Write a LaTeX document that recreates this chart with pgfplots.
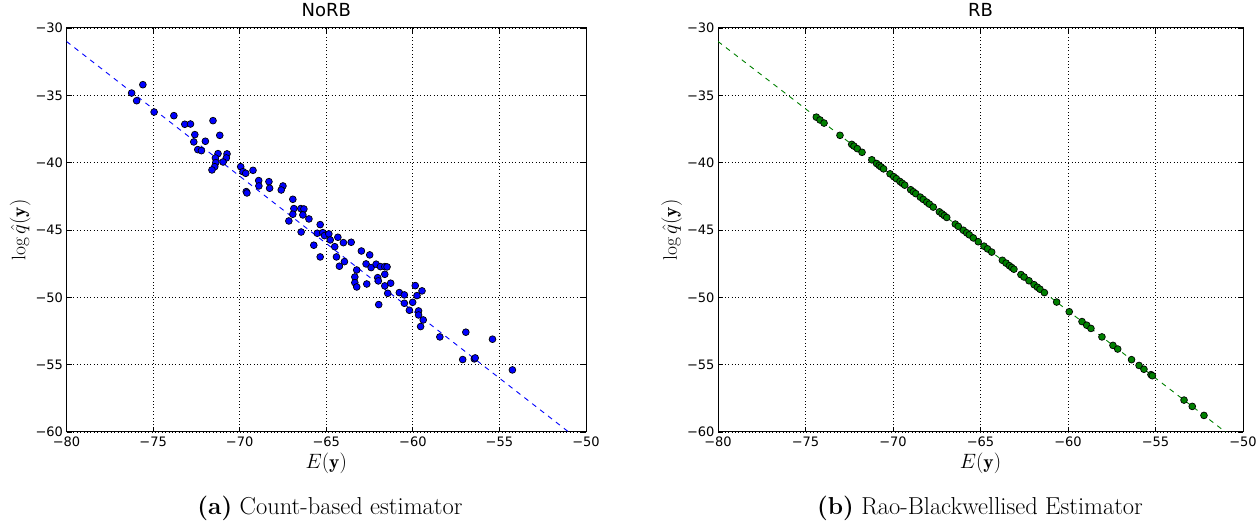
\documentclass[border=0pt]{standalone}
\usepackage{pgfplots}
\pgfplotsset{compat=1.18}
\usepackage{fontspec}
\newfontfamily\dejavu{DejaVu Sans}
\definecolor{mplgreen}{rgb}{0,0.5,0}
\pgfplotsset{
  myax/.style={
    scale only axis, height=404pt,
    xmin=-80, xmax=-50, ymin=-60, ymax=-30,
    xtick={-80,-75,-70,-65,-60,-55,-50},
    xticklabels={−80,−75,−70,−65,−60,−55,−50},
    ytick={-60,-55,-50,-45,-40,-35,-30},
    yticklabels={−60,−55,−50,−45,−40,−35,−30},
    tick label style={font=\dejavu\fontsize{13}{15}\selectfont},
    title style={font=\dejavu\fontsize{18}{21}\selectfont, at={(axis description cs:0.5,1)}, anchor=base, yshift=5pt},
    label style={font=\fontsize{19.5}{23}\selectfont},
    xlabel={$E(\mathbf{y})$},
    ylabel={$\log\hat{q}(\mathbf{y})$},
    xlabel style={at={(axis description cs:0.5,0)}, anchor=base, yshift=-37pt},
    grid=major,
    major grid style={black, line width=0.8pt, dash pattern=on 0.8pt off 2.6pt},
    major tick length=5pt,
    tick style={black, line width=0.8pt},
    axis line style={black, line width=1pt},
    xticklabel style={anchor=base, yshift=-15pt},
  }
}
\begin{document}
\begin{tikzpicture}
\useasboundingbox (0,0) rectangle (1259pt,529pt);
\begin{axis}[myax, at={(66.5pt,97pt)}, anchor=south west, width=519.5pt, title={NoRB},
  ylabel style={at={(axis description cs:-0.089,0.5)}, anchor=center}]
\addplot[blue, line width=0.9pt, dash pattern=on 5pt off 5pt] coordinates {(-80,-31) (-50,-61)};
\addplot[only marks, mark=*, mark size=3.4pt, mark options={fill=blue, draw=black, line width=0.7pt}] coordinates {
(-76.24,-34.83) (-75.95,-35.40) (-75.59,-34.21) (-74.94,-36.24) (-73.80,-36.51) (-73.17,-37.15) (-72.84,-37.13) (-72.59,-37.92) (-72.65,-38.46) (-72.42,-39.03) (-72.21,-39.11) (-71.98,-38.41) (-71.54,-36.88) (-71.15,-37.97) (-71.25,-39.33) (-71.40,-39.65) (-70.73,-39.35) (-70.77,-39.65) (-70.96,-39.95) (-71.38,-40.00) (-71.44,-40.30) (-71.60,-40.54) (-69.94,-40.30) (-69.81,-40.67) (-69.65,-40.79) (-69.23,-40.57) (-69.62,-42.15) (-69.58,-42.25) (-68.90,-41.33) (-68.89,-41.73) (-68.31,-41.41) (-68.27,-41.90) (-67.50,-41.73) (-67.60,-42.03) (-66.93,-42.72) (-66.87,-43.41) (-66.93,-43.83) (-67.16,-44.33) (-66.47,-43.41) (-66.29,-43.44) (-66.35,-43.88) (-66.00,-44.18)
(-66.45,-45.15) (-65.35,-44.60) (-65.52,-45.24) (-65.20,-45.20) (-65.10,-45.42) (-64.85,-45.29) (-64.77,-45.74) (-65.72,-46.13) (-65.35,-47.00) (-64.51,-46.24) (-64.33,-45.54) (-64.01,-45.94) (-63.56,-45.91) (-64.41,-47.00) (-63.95,-47.35) (-64.24,-47.69) (-62.97,-46.56) (-62.49,-46.85) (-62.70,-47.52) (-62.41,-47.79) (-62.12,-47.54) (-61.87,-47.72) (-61.62,-47.72) (-61.49,-47.74) (-63.24,-47.97) (-63.35,-48.49) (-63.35,-48.91) (-63.24,-49.23) (-62.66,-49.01) (-62.03,-48.54) (-61.99,-48.78) (-61.62,-48.29) (-61.62,-49.15) (-61.28,-48.95) (-61.45,-49.70) (-61.97,-50.54) (-60.78,-49.65)
(-60.49,-49.82) (-60.49,-50.44) (-60.01,-50.37) (-60.20,-50.96) (-59.86,-49.13) (-59.76,-49.87) (-59.47,-49.52) (-59.67,-51.01) (-59.67,-51.31) (-59.40,-51.68) (-59.55,-52.17) (-58.44,-52.94) (-56.94,-52.59) (-55.40,-53.11) (-57.12,-54.62) (-56.45,-54.57) (-56.40,-54.50) (-54.25,-55.39)
};
\end{axis}
\begin{axis}[myax, at={(718pt,97pt)}, anchor=south west, width=525pt, title={RB},
  ylabel style={at={(axis description cs:-0.088,0.5)}, anchor=center}]
\addplot[mplgreen, line width=0.9pt, dash pattern=on 5pt off 5pt] coordinates {(-80,-31) (-50,-61)};
\addplot[only marks, mark=*, mark size=3.4pt, mark options={fill=mplgreen, draw=black, line width=0.7pt}] coordinates {
(-74.38,-36.62) (-74.17,-36.83) (-73.94,-37.06) (-73.03,-37.97) (-72.36,-38.64) (-72.23,-38.77) (-72.04,-38.96) (-71.77,-39.23) (-71.21,-39.79) (-70.94,-40.06) (-70.79,-40.21) (-70.68,-40.32) (-70.54,-40.46) (-70.17,-40.83) (-69.96,-41.04) (-69.81,-41.19) (-69.60,-41.40) (-69.47,-41.53) (-69.33,-41.67) (-68.99,-42.01) (-68.84,-42.16) (-68.70,-42.30) (-68.44,-42.56) (-68.27,-42.73) (-68.07,-42.93) (-67.92,-43.08) (-67.70,-43.30) (-67.35,-43.65) (-67.20,-43.80) (-67.07,-43.93) (-66.93,-44.07) (-66.44,-44.56) (-66.27,-44.73) (-65.98,-45.02) (-65.79,-45.21) (-65.64,-45.36) (-65.41,-45.59) (-65.13,-45.87) (-64.80,-46.20) (-64.60,-46.40) (-64.36,-46.64) (-63.75,-47.25) (-63.54,-47.46) (-63.35,-47.65) (-63.22,-47.78) (-63.09,-47.91) (-62.69,-48.31) (-62.51,-48.49) (-62.23,-48.77) (-61.94,-49.06) (-61.75,-49.25) (-61.60,-49.40) (-61.35,-49.65) (-60.65,-50.35) (-59.93,-51.07) (-59.20,-51.80) (-58.93,-52.07) (-58.69,-52.31) (-58.06,-52.94) (-57.43,-53.57) (-57.16,-53.84) (-56.37,-54.63) (-55.94,-55.06) (-55.66,-55.34) (-55.26,-55.74) (-55.18,-55.82) (-53.37,-57.63) (-52.90,-58.10) (-52.23,-58.77)
};
\end{axis}
\node[font=\fontsize{24.5}{29}\selectfont, anchor=base] at (330pt,14pt) {\textbf{(a)} Count-based estimator};
\node[font=\fontsize{24.5}{29}\selectfont, anchor=base] at (980pt,14pt) {\textbf{(b)} Rao-Blackwellised Estimator};
\end{tikzpicture}
\end{document}
